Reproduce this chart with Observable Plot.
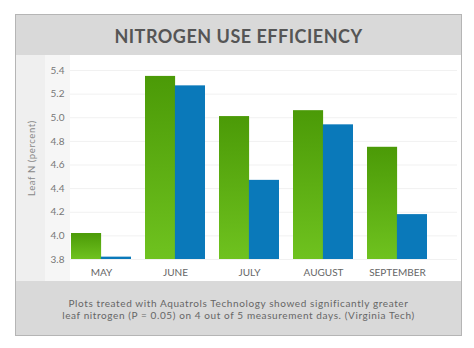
<!DOCTYPE html>
<html><head><meta charset="utf-8">
<script src="https://cdn.jsdelivr.net/npm/d3@7"></script>
<script src="https://cdn.jsdelivr.net/npm/@observablehq/plot@0.6"></script>
<style>
html,body{margin:0;padding:0;background:#fff;}
body{position:relative;width:474px;height:348px;overflow:hidden;font-family:Lato,"Open Sans",sans-serif;}
#frame{position:absolute;left:15px;top:14px;width:447px;height:322px;box-sizing:border-box;border:1px solid #b5b5b5;background:#fff;}
#title{position:absolute;left:0;top:0;right:0;height:40px;background:#d9d9d9;color:#555;font-weight:bold;font-size:18px;letter-spacing:0.5px;text-align:center;line-height:43px;}
#strip1{position:absolute;left:0;top:40px;width:29px;height:226px;background:#efefef;}
#strip2{position:absolute;left:29px;top:40px;width:25px;height:226px;background:#f6f6f6;}
#footer{position:absolute;left:0;right:0;top:266px;bottom:0;background:#d9d9d9;color:#666;font-size:10px;letter-spacing:0.6px;text-align:center;line-height:11.5px;padding-top:17px;box-sizing:border-box;}
#ylabel{position:absolute;left:31px;top:158px;transform:translate(-50%,-50%) rotate(-90deg);white-space:nowrap;color:#888;font-size:9.5px;letter-spacing:0.6px;}
#chart{position:absolute;left:0;top:55px;}
</style>
</head><body>
<div id="frame">
  <div id="title">NITROGEN USE EFFICIENCY</div>
  <div id="strip1"></div><div id="strip2"></div>
  <div id="footer">Plots treated with Aquatrols Technology showed significantly greater<br>leaf nitrogen (P = 0.05) on 4 out of 5 measurement days. (Virginia Tech)</div>
</div>
<div id="ylabel">Leaf N (percent)</div>
<div id="chart"></div>
<script>
const months = ["MAY", "JUNE", "JULY", "AUGUST", "SEPTEMBER"];
const treated = [4.02, 5.35, 5.01, 5.06, 4.75];
const untreated = [3.82, 5.27, 4.47, 4.94, 4.18];
const yTicks = [3.8, 4.0, 4.2, 4.4, 4.6, 4.8, 5.0, 5.2, 5.4];
const baseline = 3.8;

const treatedData = months.map((m, i) => ({month: m, value: treated[i]}));
const untreatedData = months.map((m, i) => ({month: m, value: untreated[i]}));

const defs = () => {
  const d = d3.create("svg:defs");
  const g = d.append("linearGradient").attr("id", "greenGrad")
    .attr("x1", 0).attr("y1", 0).attr("x2", 0).attr("y2", 1);
  g.append("stop").attr("offset", "0%").attr("stop-color", "#4b9a07");
  g.append("stop").attr("offset", "100%").attr("stop-color", "#6fc21f");
  return d.node();
};

const bw = 59.8;
const plot = Plot.plot({
  width: 474,
  height: 226,
  marginLeft: 70,
  marginRight: 17,
  marginTop: 15,
  marginBottom: 22,
  style: {fontFamily: "Lato, sans-serif", fontSize: "10px", color: "#777", background: "transparent", overflow: "visible"},
  x: {type: "band", domain: months, range: [70, 427], paddingInner: 0.195, paddingOuter: 0, label: null},
  y: {domain: [3.8, 5.4], range: [204, 15], label: null},
  marks: [
    defs,
    Plot.gridY(yTicks, {stroke: "#f1f1f1", strokeOpacity: 1}),
    Plot.barY(treatedData, {x: "month", y1: () => baseline, y2: "value", fill: "url(#greenGrad)", insetRight: bw / 2}),
    Plot.barY(untreatedData, {x: "month", y1: () => baseline, y2: "value", fill: "#0a79ba", insetLeft: bw / 2}),
    Plot.axisY(yTicks, {tickSize: 0, tickPadding: 6, tickFormat: d3.format(".1f"), label: null, fill: "#777"}),
    Plot.axisX({tickSize: 0, tickPadding: 9, label: null, fill: "#666", style: {letterSpacing: "1px"}})
  ]
});
document.getElementById("chart").appendChild(plot);
</script>
</body></html>
